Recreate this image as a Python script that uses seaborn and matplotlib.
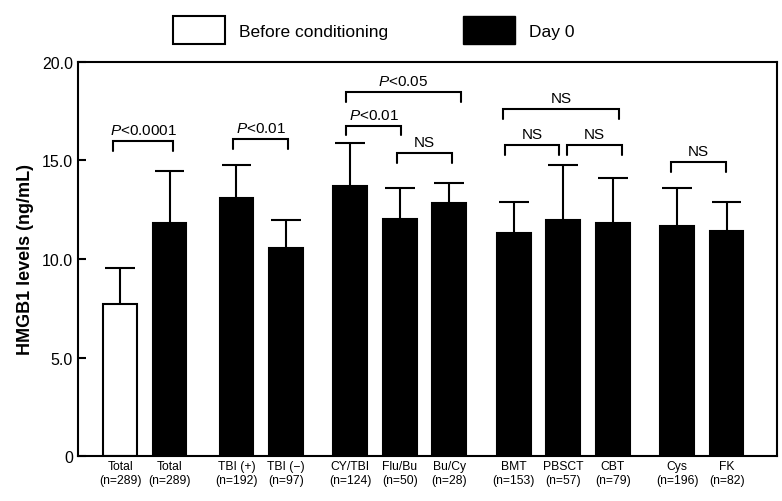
import numpy as np
import pandas as pd
import seaborn as sns
import matplotlib.pyplot as plt
from matplotlib.patches import Patch

# bar labels, groups and values
labels = ['Total\n(n=289)', 'Total\n(n=289)', 'TBI (+)\n(n=192)', 'TBI (\u2212)\n(n=97)',
          'CY/TBI\n(n=124)', 'Flu/Bu\n(n=50)', 'Bu/Cy\n(n=28)',
          'BMT\n(n=153)', 'PBSCT\n(n=57)', 'CBT\n(n=79)',
          'Cys\n(n=196)', 'FK\n(n=82)']
group_sizes = [2, 2, 3, 3, 2]
condition = ['Before conditioning'] + ['Day 0'] * 11
means = [7.72, 11.83, 13.10, 10.56, 13.71, 12.01, 12.83, 11.30, 12.00, 11.83, 11.68, 11.44]
sds = [1.81, 2.62, 1.67, 1.42, 2.16, 1.59, 1.01, 1.59, 2.77, 2.30, 1.94, 1.45]

# significance brackets: (bar i, bar j, height, label, left nudge, right nudge)
brackets = [
    (0, 1, 15.97, '$P$<0.0001', -0.14, 0.07),
    (2, 3, 16.10, '$P$<0.01', -0.06, 0.04),
    (4, 5, 16.77, '$P$<0.01', -0.08, 0.03),
    (4, 6, 18.46, '$P$<0.05', -0.09, 0.23),
    (5, 6, 15.38, 'NS', -0.05, 0.06),
    (7, 9, 17.61, 'NS', -0.22, 0.13),
    (7, 8, 15.79, 'NS', -0.17, -0.08),
    (8, 9, 15.79, 'NS', 0.08, 0.18),
    (10, 11, 14.94, 'NS', -0.12, -0.01),
]

# x positions: unit spacing inside a group, wider gap between groups
pos = []
x = 0.0
for k, n in enumerate(group_sizes):
    for _ in range(n):
        pos.append(x)
        x += 1.0
    x += 0.3 if k > 0 else 0.35
pos = np.array(pos)

df = pd.DataFrame({'x': pos, 'y': means, 'cond': condition})

sns.set_style('white')
plt.rcParams['font.family'] = ['Liberation Sans', 'DejaVu Sans']
plt.rcParams['mathtext.fontset'] = 'custom'
plt.rcParams['mathtext.rm'] = 'Liberation Sans'
plt.rcParams['mathtext.it'] = 'Liberation Sans:italic'
for key in ['text.color', 'axes.labelcolor', 'xtick.color', 'ytick.color']:
    plt.rcParams[key] = 'black'

fig = plt.figure(figsize=(7.82, 5.02), dpi=100)
ax = fig.add_axes([0.0997, 0.0896, 0.894, 0.785])

palette = {'Before conditioning': 'white', 'Day 0': 'black'}
sns.barplot(data=df, x='x', y='y', hue='cond', palette=palette, native_scale=True,
            dodge=False, width=0.68, edgecolor='black', linewidth=1.5,
            errorbar=None, legend=False, ax=ax)

# upper-only error bars: stem from the bar top, cap at mean + SD
tops = np.array(means) + np.array(sds)
ax.vlines(pos, means, tops, color='black', lw=1.5, zorder=1)
ax.hlines(tops, pos - 0.3, pos + 0.3, color='black', lw=1.5, zorder=1)

for i, j, h, txt, dl, dr in brackets:
    x1, x2 = pos[i] + dl, pos[j] + dr
    ax.plot([x1, x1, x2, x2], [h - 0.5, h, h, h - 0.5], color='black', lw=1.5,
            solid_joinstyle='miter')
    ax.text((x1 + x2) / 2, h + 0.2, txt, ha='center', va='bottom', fontsize=11)

ax.set_xlim(-0.85, 13.27)
ax.set_ylim(0, 20)
ax.set_yticks([0, 5, 10, 15, 20])
ax.set_yticklabels(['0', '5.0', '10.0', '15.0', '20.0'], fontsize=11.5)
ax.set_xticks(pos)
ax.set_xticklabels(labels, fontsize=8.7)
ax.tick_params(axis='y', direction='in', length=6, width=1.5, left=True)
ax.tick_params(axis='x', length=0, pad=3)
ax.set_xlabel('')
ax.set_ylabel('HMGB1 levels (ng/mL)', fontsize=13, fontweight='bold', labelpad=6)
for s in ax.spines.values():
    s.set_linewidth(1.5)
    s.set_color('black')

handles = [Patch(facecolor='white', edgecolor='black', linewidth=1.5, label='Before conditioning'),
           Patch(facecolor='black', edgecolor='black', label='Day 0')]
fig.legend(handles=handles, loc='center', bbox_to_anchor=(0.478, 0.938), ncol=2,
           frameon=False, fontsize=12.5, handlelength=3.0, handleheight=2.1,
           handletextpad=0.8, columnspacing=4.3)

fig.savefig('out.png', dpi=100)
